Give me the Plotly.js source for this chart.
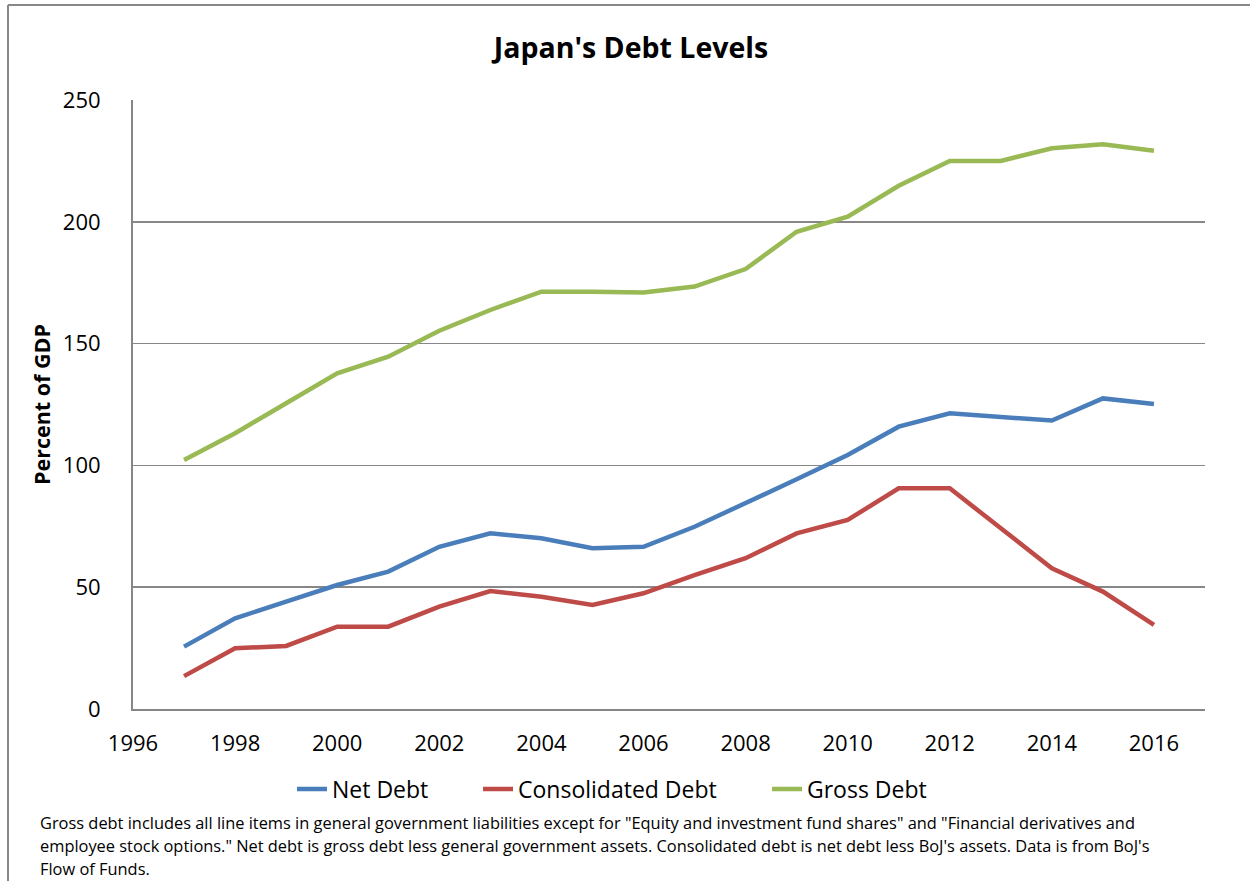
<!DOCTYPE html>
<html>
<head>
<meta charset="utf-8">
<script src="https://cdn.plot.ly/plotly-3.0.1.min.js"></script>
<style>html,body{margin:0;padding:0;background:#fff;}#chart{width:1250px;height:881px;}</style>
</head>
<body>
<div id="chart"></div>
<script>
const years = [1997,1998,1999,2000,2001,2002,2003,2004,2005,2006,2007,2008,2009,2010,2011,2012,2013,2014,2015,2016];
const netDebt = [25.6,37.2,44.1,50.9,56.4,66.6,72.1,70.1,66.0,66.6,74.8,84.4,94.3,104.3,115.9,121.4,120.0,118.4,127.5,125.2];
const consolidatedDebt = [13.5,24.9,25.9,33.8,33.8,42.0,48.4,46.1,42.7,47.5,55.0,61.9,72.1,77.6,90.6,90.6,74.2,57.8,48.2,34.5];
const grossDebt = [102.2,113.2,125.5,137.8,144.6,155.3,163.8,171.3,171.3,171.0,173.4,180.6,195.9,202.1,214.8,225.0,225.0,230.2,231.8,229.2];
const seriesNames = ["Net Debt","Consolidated Debt","Gross Debt"];
const xTicks = [1996,1998,2000,2002,2004,2006,2008,2010,2012,2014,2016];
const yTicks = [0,50,100,150,200,250];
const chartTitle = "Japan's Debt Levels";
const yTitle = "Percent of GDP";
const footnoteLines = [
  'Gross debt includes all line items in general government liabilities except for "Equity and investment fund shares" and "Financial derivatives and',
  'employee stock options." Net debt is gross debt less general government assets. Consolidated debt is net debt less BoJ\'s assets. Data is from BoJ\'s',
  'Flow of Funds.'
];

const W = 1250, H = 881;
const L = 133, R = 1205, T = 100, B = 709;
const pw = R - L, ph = B - T;
const px = x => (x - L) / pw;
const py = y => (B - y) / ph;

const FONT = "Open Sans, Lato, sans-serif";
const colors = ["#4A7EBB", "#BE4B48", "#98B954"];
const lineW = 4.5;

const traces = [
  {x: years, y: netDebt, name: seriesNames[0], type: 'scatter', mode: 'lines', line: {color: colors[0], width: lineW}, legend: 'legend'},
  {x: years, y: consolidatedDebt, name: seriesNames[1], type: 'scatter', mode: 'lines', line: {color: colors[1], width: lineW}, legend: 'legend2'},
  {x: years, y: grossDebt, name: seriesNames[2], type: 'scatter', mode: 'lines', line: {color: colors[2], width: lineW}, legend: 'legend3'}
];

const legendBase = (xpix) => ({
  x: px(xpix), y: py(789), xanchor: 'left', yanchor: 'middle', orientation: 'h',
  font: {family: FONT, size: 23, color: '#000'}, bgcolor: 'rgba(0,0,0,0)', borderwidth: 0
});

const annotations = footnoteLines.map((t, i) => ({
  text: t, xref: 'paper', yref: 'paper', x: px(38), y: py(822 + i * 23),
  xanchor: 'left', yanchor: 'middle', showarrow: false, align: 'left',
  font: {family: FONT, size: 16.4, color: '#000'}
}));

const layout = {
  width: W, height: H,
  margin: {l: L, r: W - R, t: T, b: H - B, pad: 0},
  paper_bgcolor: '#fff', plot_bgcolor: '#fff',
  title: {text: '<b>' + chartTitle + '</b>', x: 631 / W, xref: 'container', xanchor: 'center',
          y: 1 - 48 / H, yref: 'container', yanchor: 'middle',
          font: {family: FONT, size: 28.5, color: '#000'}},
  xaxis: {range: [1996, 2017], tickvals: xTicks, ticktext: xTicks.map(String),
          showgrid: false, zeroline: false, showline: true, linecolor: '#868686', linewidth: 2,
          ticks: '', tickfont: {family: FONT, size: 22, color: '#000'}, ticklabelstandoff: 14, fixedrange: true},
  yaxis: {range: [0, 250], tickvals: yTicks, ticktext: yTicks.map(String),
          showgrid: true, gridcolor: '#878787', gridwidth: 1.5, zeroline: false,
          showline: true, linecolor: '#868686', linewidth: 2, ticks: '',
          tickfont: {family: FONT, size: 22, color: '#000'}, ticklabelstandoff: 26,
          title: {text: '<b>' + yTitle + '</b>', font: {family: FONT, size: 21.5, color: '#000'}, standoff: 6},
          fixedrange: true},
  showlegend: true,
  legend: legendBase(292),
  legend2: legendBase(478),
  legend3: legendBase(767),
  annotations: annotations,
  shapes: [
    {type: 'line', xref: 'paper', yref: 'paper', x0: px(8), x1: px(1260), y0: py(5), y1: py(5), line: {color: '#878787', width: 2}},
    {type: 'line', xref: 'paper', yref: 'paper', x0: px(8), x1: px(8), y0: py(5), y1: py(890), line: {color: '#878787', width: 2}}
  ]
};

Plotly.newPlot('chart', traces, layout, {displayModeBar: false, staticPlot: true});
</script>
</body>
</html>
